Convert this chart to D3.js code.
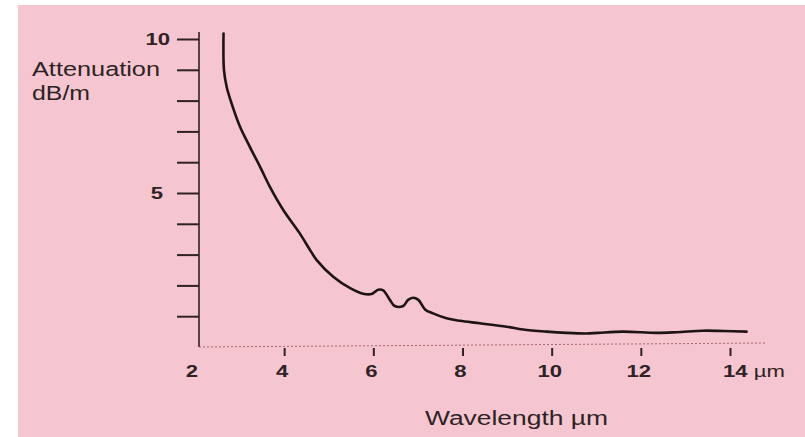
<!DOCTYPE html>
<html>
<head>
<meta charset="utf-8">
<script src="https://cdn.jsdelivr.net/npm/d3@7"></script>
<style>
  body { margin: 0; background: #ffffff; }
  svg { display: block; }
</style>
</head>
<body>
<div id="graph"></div>
<script>
// values
var wavelength = [2.64, 2.65, 2.71, 2.82, 3.01, 3.23, 3.46, 3.68, 3.98, 4.35, 4.58, 4.73, 5.10, 5.48, 5.77, 5.96,
                  6.11, 6.22, 6.37, 6.48, 6.67, 6.78, 6.89, 7.01, 7.16, 7.34, 7.64, 7.94, 8.39, 8.99, 9.36, 9.89,
                  10.33, 10.78, 11.04, 11.6, 12.35, 12.8, 13.4, 13.85, 14.37];
var attenuation = [10.18, 8.99, 8.45, 7.91, 7.15, 6.50, 5.85, 5.20, 4.45, 3.69, 3.15, 2.82, 2.28, 1.91, 1.73, 1.72,
                   1.86, 1.84, 1.53, 1.33, 1.33, 1.53, 1.60, 1.53, 1.22, 1.09, 0.93, 0.85, 0.77, 0.66, 0.57, 0.50,
                   0.46, 0.44, 0.46, 0.50, 0.46, 0.48, 0.53, 0.52, 0.50];
var xTicks = [2, 4, 6, 8, 10, 12, 14];
var xTickLabels = ["2", "4", "6", "8", "10", "12", "14"];
var yTicks = [1, 2, 3, 4, 5, 6, 7, 8, 9, 10];
var yTickLabels = { 5: "5", 10: "10" };

var width = 805, height = 437;
var ink = "#2e2224";
var font = "'Liberation Sans', Arial, sans-serif";

var svg = d3.select("#graph")
    .append("svg")
    .attr("width", width)
    .attr("height", height);

// the pink paper
svg.append("rect")
    .attr("x", 18)
    .attr("y", 5)
    .attr("width", width - 18)
    .attr("height", height - 5)
    .attr("fill", "#f5c6d0");

var x = d3.scaleLinear().domain([2, 14]).range([195, 730]);
var y = d3.scaleLinear().domain([0, 10]).range([347, 39]);

// y axis
var yAxis = svg.append("g")
    .attr("transform", "translate(199,0)")
    .call(d3.axisLeft(y)
        .tickValues(yTicks)
        .tickSize(22)
        .tickSizeOuter(0)
        .tickFormat(""));
yAxis.select(".domain").remove();
yAxis.selectAll(".tick line")
    .attr("stroke", ink)
    .attr("stroke-width", 2);
yAxis.append("line")
    .attr("x1", 0).attr("x2", 0)
    .attr("y1", 32).attr("y2", y(0))
    .attr("stroke", ink)
    .attr("stroke-width", 1.6);

svg.selectAll(".ylab")
    .data(yTicks.filter(function(d) { return yTickLabels[d]; }))
    .enter()
    .append("text")
    .attr("class", "ylab")
    .attr("transform", function(d) {
        return "translate(" + (d == 10 ? 170 : 163) + "," + (y(d) + 6) + ") scale(1.3,1)";
    })
    .style("text-anchor", "end")
    .attr("font-family", font)
    .attr("font-weight", "bold")
    .attr("font-size", 17)
    .attr("fill", ink)
    .text(function(d) { return yTickLabels[d]; });

// x axis, dotted baseline
svg.append("line")
    .attr("x1", 199).attr("x2", 767)
    .attr("y1", y(0)).attr("y2", y(0) - 4)
    .attr("stroke", "#a8646e")
    .attr("stroke-width", 1)
    .attr("stroke-dasharray", "2,2");

var xAxis = svg.append("g")
    .attr("transform", "translate(0," + (y(0) + 1) + ")")
    .call(d3.axisBottom(x)
        .tickValues(xTicks)
        .tickSize(8)
        .tickSizeOuter(0)
        .tickFormat(""));
xAxis.select(".domain").remove();
xAxis.selectAll(".tick line")
    .attr("stroke", ink)
    .attr("stroke-width", 2)
    .attr("opacity", function(d) { return d == 2 ? 0 : 1; });

var xLab = svg.selectAll(".xlab")
    .data(xTicks)
    .enter()
    .append("text")
    .attr("class", "xlab")
    .attr("transform", function(d, i) {
        var px = d == 14 ? x(d) - 7 : (d == 2 ? 192 : x(d) - 2);
        return "translate(" + px + ",377) scale(1.3,1)";
    })
    .style("text-anchor", function(d) { return d == 14 ? "start" : "middle"; })
    .attr("font-family", font)
    .attr("font-size", 17)
    .attr("fill", ink);
xLab.append("tspan")
    .attr("font-weight", "bold")
    .text(function(d, i) { return xTickLabels[i]; });
xLab.filter(function(d) { return d == 14; })
    .append("tspan")
    .text(" \u00b5m");

// axis titles
svg.append("text")
    .attr("x", 32).attr("y", 76)
    .attr("textLength", 128)
    .attr("lengthAdjust", "spacingAndGlyphs")
    .attr("font-family", font)
    .attr("font-size", 20)
    .attr("fill", ink)
    .text("Attenuation");
svg.append("text")
    .attr("x", 32).attr("y", 100)
    .attr("textLength", 58)
    .attr("lengthAdjust", "spacingAndGlyphs")
    .attr("font-family", font)
    .attr("font-size", 20)
    .attr("fill", ink)
    .text("dB/m");
svg.append("text")
    .attr("x", 425).attr("y", 425)
    .attr("textLength", 183)
    .attr("lengthAdjust", "spacingAndGlyphs")
    .attr("font-family", font)
    .attr("font-size", 20)
    .attr("fill", ink)
    .text("Wavelength \u00b5m");

// the attenuation curve
var line = d3.line()
    .x(function(d, i) { return x(wavelength[i]); })
    .y(function(d) { return y(d); })
    .curve(d3.curveCatmullRom.alpha(0.5));

svg.append("path")
    .datum(attenuation)
    .attr("d", line)
    .attr("fill", "none")
    .attr("stroke", "#1e1416")
    .attr("stroke-width", 2.6)
    .attr("stroke-linejoin", "round")
    .attr("stroke-linecap", "round");
</script>
</body>
</html>
